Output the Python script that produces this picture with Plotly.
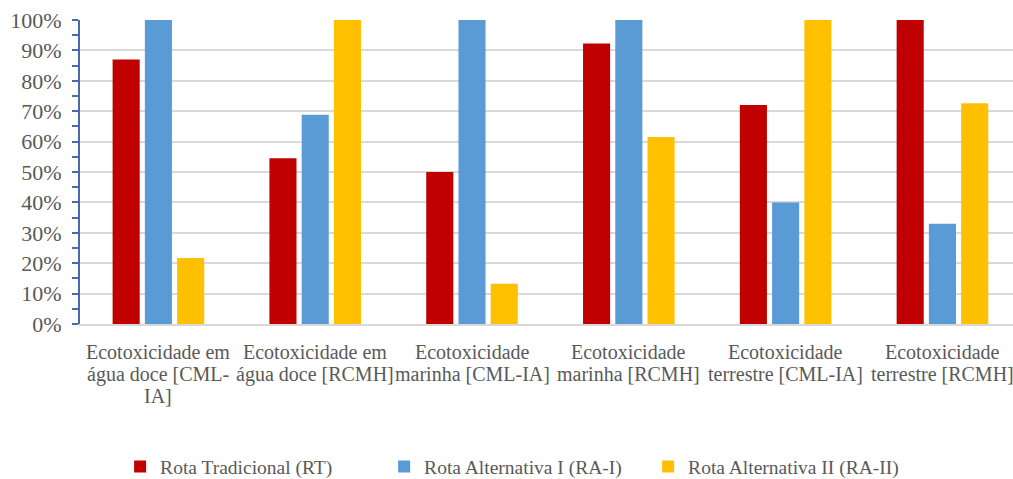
import plotly.graph_objects as go

# Impact categories (one label line per entry)
categories = [
    "Ecotoxicidade em água doce [CML-IA]",
    "Ecotoxicidade em água doce [RCMH]",
    "Ecotoxicidade marinha [CML-IA]",
    "Ecotoxicidade marinha [RCMH]",
    "Ecotoxicidade terrestre [CML-IA]",
    "Ecotoxicidade terrestre [RCMH]",
]
category_lines = [
    ["Ecotoxicidade em", "água doce [CML-", "IA]"],
    ["Ecotoxicidade em", "água doce [RCMH]"],
    ["Ecotoxicidade", "marinha [CML-IA]"],
    ["Ecotoxicidade", "marinha [RCMH]"],
    ["Ecotoxicidade", "terrestre [CML-IA]"],
    ["Ecotoxicidade", "terrestre [RCMH]"],
]

# Relative impact (%) of each route
series_names = ["Rota Tradicional (RT)", "Rota Alternativa I (RA-I)", "Rota Alternativa II (RA-II)"]
rt_values = [87, 54.5, 50, 92.3, 72, 100]
ra1_values = [100, 68.8, 100, 100, 40, 33]
ra2_values = [21.7, 100, 13.2, 61.5, 100, 72.6]
series_values = [rt_values, ra1_values, ra2_values]
series_colors = ["#C00000", "#5B9BD5", "#FFC000"]

y_ticks = list(range(0, 101, 10))
y_tick_text = [f"{v}%" for v in y_ticks]

FONT = "Liberation Serif"
TEXT_GRAY = "#595959"
AXIS_BLUE = "#4A6AAE"

fig = go.Figure()
for name, vals, color in zip(series_names, series_values, series_colors):
    fig.add_trace(go.Bar(
        x=categories, y=vals, name=name,
        marker=dict(color=color, line=dict(width=0)),
    ))

# Multi-line category labels under each group
annotations = []
for cat, lines in zip(categories, category_lines):
    for i, line in enumerate(lines):
        annotations.append(dict(
            x=cat, xref="x", y=0, yref="paper",
            yanchor="middle", xanchor="center",
            yshift=-28 - 22 * i,
            text=line, showarrow=False,
            font=dict(family=FONT, size=20, color=TEXT_GRAY),
        ))

fig.update_layout(
    width=1013, height=479,
    margin=dict(l=80, r=0, t=20, b=155, autoexpand=False),
    paper_bgcolor="white", plot_bgcolor="white",
    barmode="group", bargap=0.383, bargroupgap=0.16,
    font=dict(family=FONT, color=TEXT_GRAY),
    xaxis=dict(
        type="category", range=[-0.5, 5.45],
        showticklabels=False, ticks="",
        showgrid=False, showline=True, linecolor="#D9D9D9", linewidth=1.5,
        zeroline=False,
    ),
    yaxis=dict(
        range=[0, 100], tickvals=y_ticks, ticktext=y_tick_text,
        showgrid=True, gridcolor="#D9D9D9", gridwidth=1.5,
        zeroline=False,
        showline=True, linecolor=AXIS_BLUE, linewidth=2,
        ticks="outside", ticklen=6, tickwidth=2, tickcolor=AXIS_BLUE,
        minor=dict(dtick=5, ticks="outside", ticklen=6, tickwidth=2,
                   tickcolor=AXIS_BLUE, showgrid=False),
        ticklabelstandoff=6,
        tickfont=dict(family=FONT, size=22, color=TEXT_GRAY),
    ),
    yaxis2=dict(
        range=[0, 100], overlaying="y", anchor="x", side="left",
        tickvals=y_ticks, showticklabels=False, showgrid=False, zeroline=False,
        showline=False,
        ticks="inside", ticklen=6, tickwidth=2, tickcolor=AXIS_BLUE,
        minor=dict(dtick=5, ticks="inside", ticklen=6, tickwidth=2,
                   tickcolor=AXIS_BLUE, showgrid=False),
    ),
    legend=dict(
        orientation="h", x=0.043, xanchor="left", y=-0.47, yanchor="middle",
        font=dict(family=FONT, size=19.5, color=TEXT_GRAY),
        entrywidth=219, entrywidthmode="pixels",
        bgcolor="rgba(0,0,0,0)", itemwidth=30,
    ),
    annotations=annotations,
    showlegend=True,
)

fig.write_html("out.html")
